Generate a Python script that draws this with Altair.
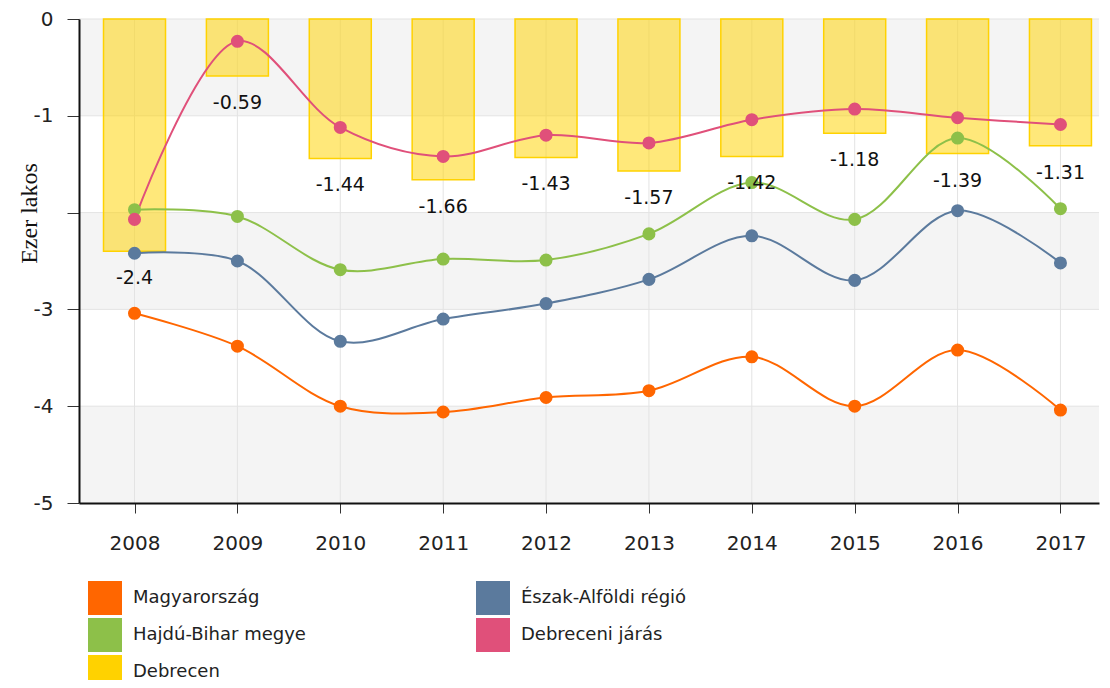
import altair as alt
import pandas as pd

years = [2008, 2009, 2010, 2011, 2012, 2013, 2014, 2015, 2016, 2017]
series_names = ["Magyarország", "Észak-Alföldi régió", "Hajdú-Bihar megye",
                "Debreceni járás", "Debrecen"]
series_colors = ["#ff6600", "#5b7a9d", "#8dc049", "#e0507a", "#ffd200"]

magyarorszag = [-3.04, -3.38, -4.00, -4.06, -3.91, -3.84, -3.49, -4.00, -3.42, -4.04]
eszak_alfold = [-2.42, -2.50, -3.33, -3.10, -2.94, -2.69, -2.24, -2.70, -1.98, -2.52]
hajdu_bihar = [-1.97, -2.04, -2.59, -2.48, -2.49, -2.22, -1.69, -2.07, -1.23, -1.96]
debreceni_jaras = [-2.07, -0.23, -1.12, -1.42, -1.20, -1.28, -1.04, -0.93, -1.02, -1.09]
debrecen = [-2.4, -0.59, -1.44, -1.66, -1.43, -1.57, -1.42, -1.18, -1.39, -1.31]

y_ticks = [0, -1, -2, -3, -4, -5]
band_top = [0, -2, -4]
band_bottom = [-1, -3, -5]

W, H = 1020, 484

line_rows = []
for name, vals in zip(series_names[:4], [magyarorszag, eszak_alfold, hajdu_bihar, debreceni_jaras]):
    for yr, v in zip(years, vals):
        line_rows.append({"year": yr, "value": v, "series": name})
lines_df = pd.DataFrame(line_rows)

bar_df = pd.DataFrame({"year": years, "value": debrecen, "series": "Debrecen",
                       "label": ["%g" % v for v in debrecen]})
band_df = pd.DataFrame({"value": band_top, "bottom": band_bottom})
hgrid_df = pd.DataFrame({"value": y_ticks[:-1]})
vgrid_df = pd.DataFrame({"year": years})

FONT = "DejaVu Sans"

x_enc = alt.X("year:Q",
              scale=alt.Scale(domain=[2007.509, 2017.326], nice=False, zero=False),
              axis=alt.Axis(values=years, format="d", title=None, grid=False,
                            labelFont=FONT, labelFontSize=20, labelColor="#222",
                            labelPadding=20, labelFlush=False, labelOverlap=False,
                            tickSize=10, tickColor="#333", tickWidth=1,
                            domainColor="#111", domainWidth=2, zindex=1))
y_axis = alt.Axis(values=y_ticks, grid=False,
                  labelExpr="datum.value == -2 ? '' : '' + datum.value",
                  labelFont=FONT, labelFontSize=20, labelColor="#222",
                  labelPadding=14, labelFlush=False, labelOverlap=False,
                  tickSize=12, tickColor="#333", tickWidth=1,
                  domainColor="#111", domainWidth=2, zindex=1,
                  title="Ezer lakos", titleFont="Liberation Serif",
                  titleFontSize=24, titleFontWeight="normal",
                  titleColor="#111", titleX=-50, titleY=194,
                  titleAngle=270, titleAlign="center",
                  titleBaseline="middle")
y_scale = alt.Scale(domain=[-5, 0], nice=False, zero=False)
y_enc = alt.Y("value:Q", scale=y_scale, axis=y_axis)

legend = alt.Legend(orient="none", legendX=9, legendY=562, columns=2,
                    direction="horizontal",
                    columnPadding=170, rowPadding=3, symbolType="square",
                    symbolSize=1156, symbolStrokeWidth=0, symbolOpacity=1,
                    labelFont=FONT, labelFontSize=18, labelColor="#222",
                    labelOffset=11, labelLimit=400, title=None, padding=0)
fill_scale = alt.Scale(domain=series_names, range=series_colors)

bands = alt.Chart(band_df).mark_rect(color="#f4f4f4").encode(
    y=y_enc, y2="bottom:Q", x=alt.value(0), x2=alt.value(W))

hgrid = alt.Chart(hgrid_df).mark_rule(color="#e3e3e3", strokeWidth=1).encode(
    y=y_enc, x=alt.value(0), x2=alt.value(W))

vgrid = alt.Chart(vgrid_df).mark_rule(color="#e3e3e3", strokeWidth=1).encode(
    x=x_enc, y=alt.value(0), y2=alt.value(H))

bars = alt.Chart(bar_df).mark_bar(size=62, fillOpacity=0.52, stroke="#ffd200",
                                  strokeWidth=1.5, strokeOpacity=1).encode(
    x=x_enc, y=y_enc,
    fill=alt.Fill("series:N", scale=fill_scale, legend=legend))

lines = alt.Chart(lines_df).mark_line(interpolate="catmull-rom", strokeWidth=2).encode(
    x=x_enc, y=y_enc,
    stroke=alt.Stroke("series:N", scale=alt.Scale(domain=series_names, range=series_colors),
                      legend=None))

points = alt.Chart(lines_df).mark_circle(size=170, opacity=1).encode(
    x=x_enc, y=y_enc,
    fill=alt.Fill("series:N", scale=fill_scale, legend=legend))

labels = alt.Chart(bar_df).mark_text(dy=27, font=FONT, fontSize=19, color="#111",
                                     baseline="middle").encode(
    x=x_enc, y=y_enc, text="label:N")

chart = alt.layer(bands, hgrid, vgrid, bars, lines, points, labels).properties(
    width=W, height=H,
    autosize=alt.AutoSizeParams(type="none"),
    padding={"left": 71, "top": 11, "right": 3, "bottom": 177},
    background="white",
).configure_view(stroke=None)

chart.save("out.html", embed_options={"renderer": "svg", "actions": False})
